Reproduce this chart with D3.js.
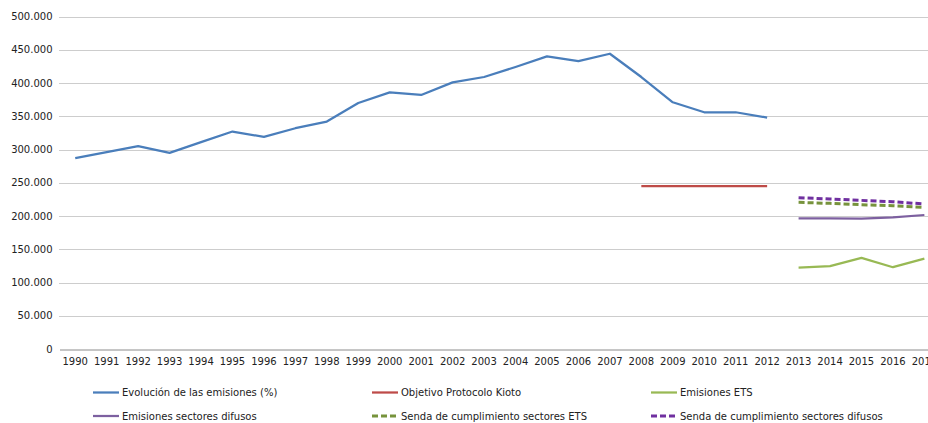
<!DOCTYPE html>
<html>
<head>
<meta charset="utf-8">
<script src="https://cdn.jsdelivr.net/npm/d3@7"></script>
<style>
  body { margin: 0; background: #fff; overflow: hidden; }
  text { font-family: "DejaVu Sans", Verdana, sans-serif; font-size: 10px; fill: #222; }
</style>
</head>
<body>
<svg id="chart" width="928" height="423"></svg>
<script>
// DATA
const years = d3.range(1990, 2018).map(String);

const evolucion = [287000, 296000, 305000, 295000, 311000, 327000, 319000, 332000, 342000, 370000,
  386000, 382000, 401000, 409000, 424000, 440000, 433000, 444000, 409000, 371000,
  356000, 356000, 348000];
const evolucionYears = years.slice(0, 23);

const kioto = [245000, 245000, 245000, 245000, 245000];
const kiotoYears = years.slice(18, 23);

const futureYears = years.slice(23, 28);
const emisionesETS = [122500, 124500, 137000, 123000, 136000];
const emisionesDifusos = [196500, 196500, 196000, 198000, 201500];
const sendaETS = [220500, 219000, 217000, 215500, 213000];
const sendaDifusos = [227500, 225500, 223500, 221500, 218000];

const yTicks = [0, 50000, 100000, 150000, 200000, 250000, 300000, 350000, 400000, 450000, 500000];

const series = [
  { name: "Evolución de las emisiones (%)", x: evolucionYears, y: evolucion, color: "#4a7ebb", dash: null, width: 2.25 },
  { name: "Objetivo Protocolo Kioto", x: kiotoYears, y: kioto, color: "#be4b48", dash: null, width: 2.25 },
  { name: "Emisiones ETS", x: futureYears, y: emisionesETS, color: "#98b954", dash: null, width: 2.25 },
  { name: "Emisiones sectores difusos", x: futureYears, y: emisionesDifusos, color: "#7d60a0", dash: null, width: 2.25 },
  { name: "Senda de cumplimiento sectores ETS", x: futureYears, y: sendaETS, color: "#77933c", dash: "6,3", width: 3 },
  { name: "Senda de cumplimiento sectores difusos", x: futureYears, y: sendaDifusos, color: "#7030a0", dash: "6,3", width: 3 }
];

// LAYOUT
const svg = d3.select("#chart");
const plot = { left: 59.5, top: 16.5, bottom: 349, width: 28 * 31.45 };

const xScale = d3.scaleBand()
  .domain(years)
  .range([plot.left, plot.left + plot.width]);

const yScale = d3.scaleLinear()
  .domain([0, 500000])
  .range([plot.bottom, plot.top]);

const fmt = d => d3.format(",")(d).replace(/,/g, ".");

// GRIDLINES
svg.append("g")
  .selectAll("line")
  .data(yTicks.filter(d => d > 0))
  .join("line")
  .attr("x1", plot.left)
  .attr("x2", plot.left + plot.width)
  .attr("y1", d => Math.round(yScale(d)) + 0.5)
  .attr("y2", d => Math.round(yScale(d)) + 0.5)
  .attr("stroke", "#9a9a9a")
  .attr("stroke-dasharray", "1,1");

// Y AXIS
const yAxis = d3.axisLeft(yScale)
  .tickValues(yTicks)
  .tickSize(0)
  .tickPadding(7)
  .tickFormat(fmt);

svg.append("g")
  .attr("transform", `translate(${plot.left},0)`)
  .call(yAxis)
  .call(g => g.select(".domain").remove())
  .call(g => g.selectAll("text").style("fill", "#222"));

// X AXIS
const xAxis = d3.axisBottom(xScale).tickSize(0).tickPadding(8);

svg.append("g")
  .attr("transform", `translate(0,${Math.round(plot.bottom) + 0.5})`)
  .call(xAxis)
  .call(g => g.select(".domain").attr("stroke", "#8c8c8c"))
  .call(g => g.selectAll("text").style("fill", "#222"));

// LINES
const cx = d => xScale(d) + xScale.bandwidth() / 2;

series.forEach(s => {
  const pts = s.x.map((yr, i) => [cx(yr), yScale(s.y[i])]);
  svg.append("path")
    .attr("d", d3.line()(pts))
    .attr("fill", "none")
    .attr("stroke", s.color)
    .attr("stroke-width", s.width)
    .attr("stroke-linejoin", "round")
    .attr("stroke-dasharray", s.dash);
});

// LEGEND
const legend = svg.append("g");
series.forEach((s, i) => {
  const col = i % 3, row = Math.floor(i / 3);
  const lx = 93 + col * 279, ly = 392.5 + row * 23.5;
  legend.append("line")
    .attr("x1", lx).attr("x2", lx + 26)
    .attr("y1", ly).attr("y2", ly)
    .attr("stroke", s.color)
    .attr("stroke-width", s.width)
    .attr("stroke-dasharray", s.dash);
  legend.append("text")
    .attr("x", lx + 29)
    .attr("y", ly)
    .attr("dy", "0.35em")
    .text(s.name);
});
</script>
</body>
</html>
